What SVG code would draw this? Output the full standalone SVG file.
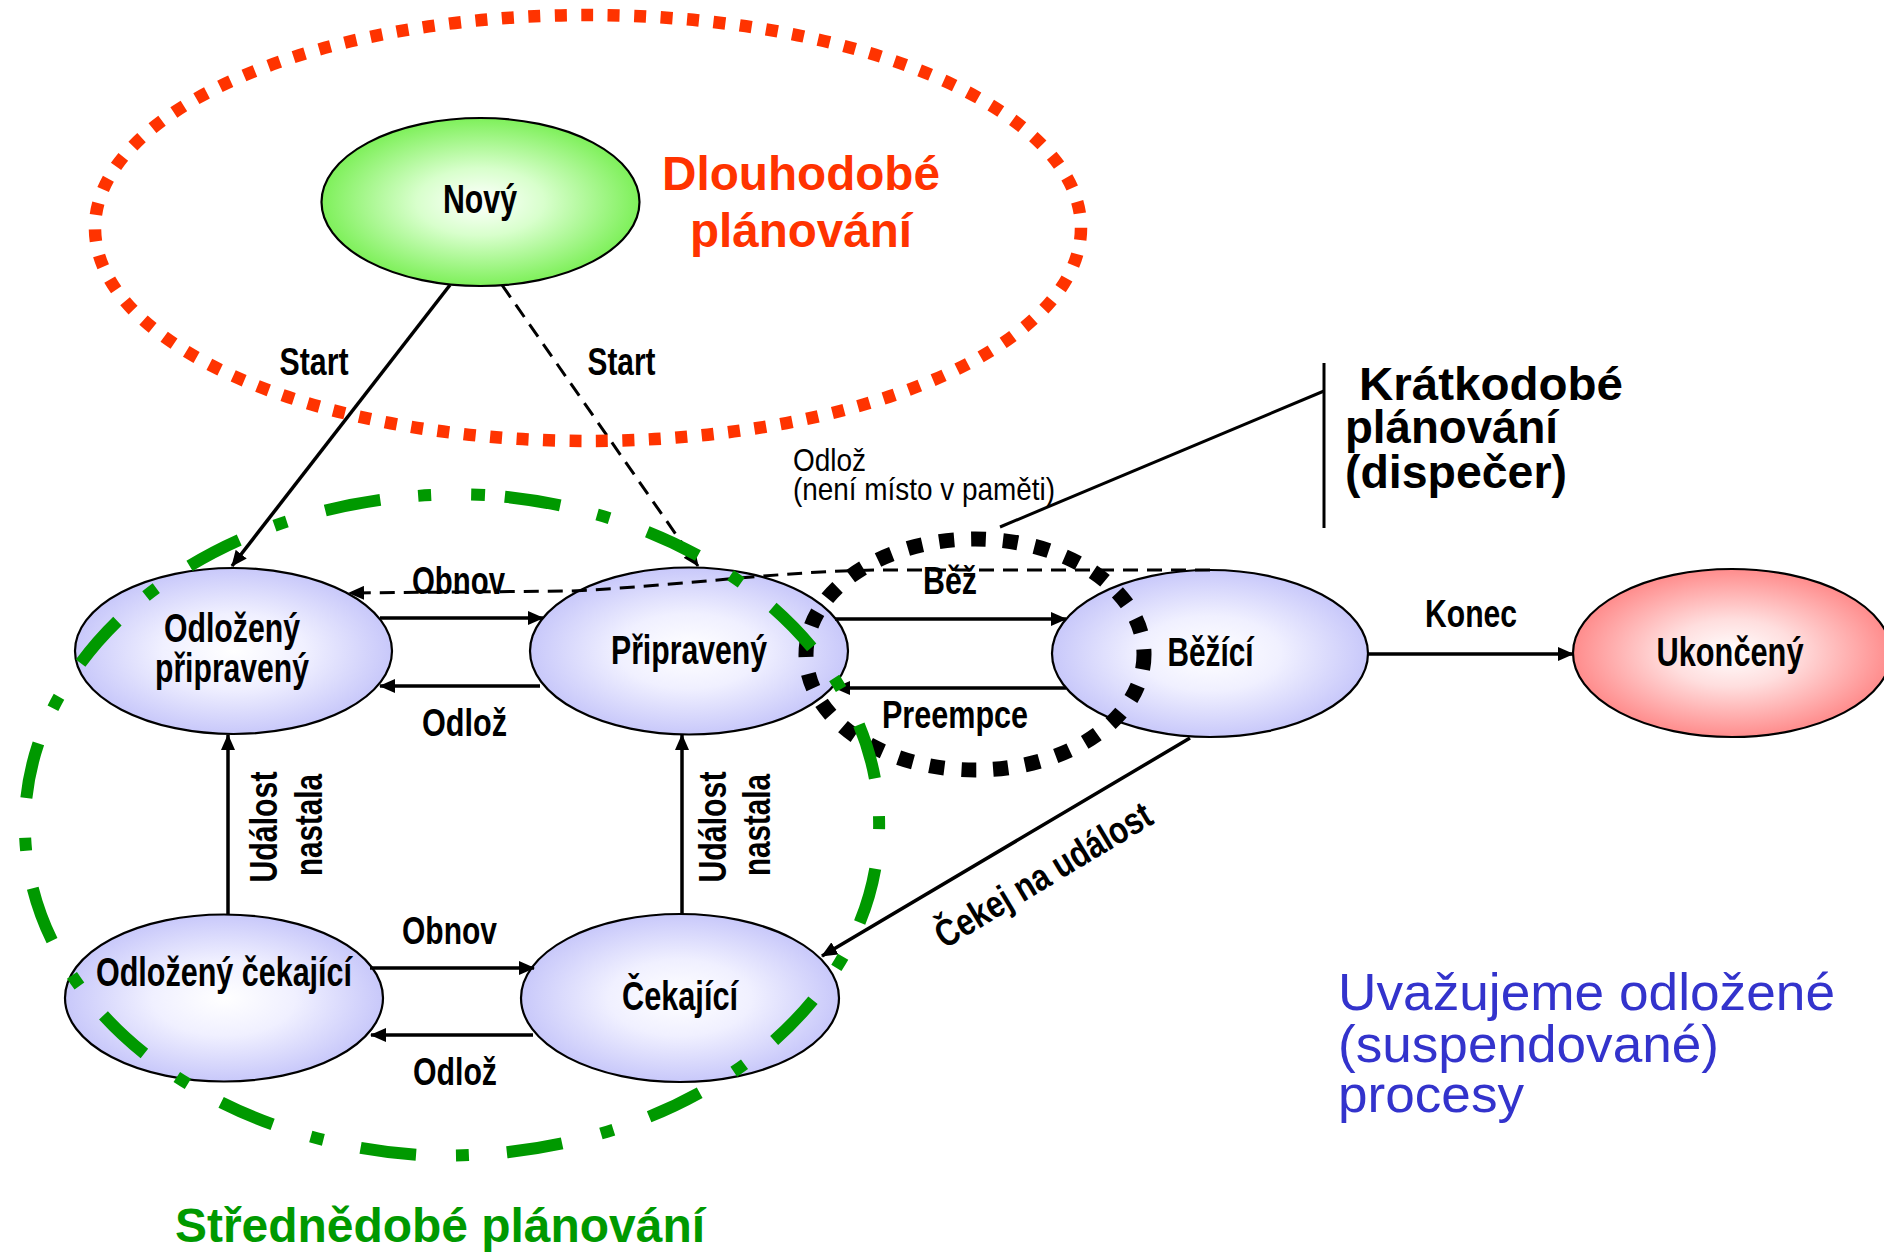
<svg xmlns="http://www.w3.org/2000/svg" width="1884" height="1252" viewBox="0 0 1884 1252">
  <defs>
    <radialGradient id="fillBlue" cx="50%" cy="50%" r="50%">
      <stop offset="0" stop-color="#ffffff"/>
      <stop offset="0.45" stop-color="#f0f0ff"/>
      <stop offset="1" stop-color="#c8c8fa"/>
    </radialGradient>
    <radialGradient id="fillGreen" cx="50%" cy="50%" r="50%">
      <stop offset="0" stop-color="#ffffff"/>
      <stop offset="0.4" stop-color="#d8ffcc"/>
      <stop offset="1" stop-color="#7ef05a"/>
    </radialGradient>
    <radialGradient id="fillRed" cx="50%" cy="50%" r="50%">
      <stop offset="0" stop-color="#ffffff"/>
      <stop offset="0.4" stop-color="#ffdede"/>
      <stop offset="1" stop-color="#ff8c8c"/>
    </radialGradient>
    <marker id="arrow" viewBox="0 0 16 14" refX="15" refY="7" markerWidth="16" markerHeight="14" markerUnits="userSpaceOnUse" orient="auto">
      <path d="M0,0 L16,7 L0,14 z" fill="#000"/>
    </marker>
  </defs>
  <style>
    .node { stroke: #000; stroke-width: 2.2; }
    .lbl { font-family: 'Liberation Sans Narrow', 'Liberation Sans', Arial, sans-serif; font-weight: bold; font-size: 40px; fill: #000; text-anchor: middle; }
    .elbl { font-family: 'Liberation Sans Narrow', 'Liberation Sans', Arial, sans-serif; font-weight: bold; font-size: 38px; fill: #000; text-anchor: middle; }
    .note { font-family: 'Liberation Sans Narrow', 'Liberation Sans', Arial, sans-serif; font-size: 32px; fill: #000; }
    .edge { fill: none; stroke: #000; stroke-width: 3.5; marker-end: url(#arrow); }
    .dash { stroke-dasharray: 15 9; stroke-width: 3; }
    .title { font-family: 'Liberation Sans', Arial, sans-serif; font-weight: bold; }
    .blue { font-family: 'Liberation Sans', Arial, sans-serif; font-size: 52px; fill: #3333cc; }
  </style>

  <rect width="1884" height="1252" fill="#fff"/>

  <!-- process states -->
  <g id="node-novy">
    <ellipse class="node" cx="480.5" cy="202" rx="159" ry="84" fill="url(#fillGreen)"/>
    <text class="lbl" x="480" y="213" textLength="74" lengthAdjust="spacingAndGlyphs">Nový</text>
  </g>
  <g id="node-odlozeny-pripraveny">
    <ellipse class="node" cx="233.5" cy="651" rx="158.5" ry="83" fill="url(#fillBlue)"/>
    <text class="lbl" x="232" y="642" textLength="136" lengthAdjust="spacingAndGlyphs">Odložený</text>
    <text class="lbl" x="232" y="682" textLength="154" lengthAdjust="spacingAndGlyphs">připravený</text>
  </g>
  <g id="node-pripraveny">
    <ellipse class="node" cx="689" cy="651" rx="159" ry="83.5" fill="url(#fillBlue)"/>
    <text class="lbl" x="689" y="664" textLength="156" lengthAdjust="spacingAndGlyphs">Připravený</text>
  </g>
  <g id="node-bezici">
    <ellipse class="node" cx="1210" cy="653.5" rx="158" ry="83.5" fill="url(#fillBlue)"/>
    <text class="lbl" x="1210.5" y="666" textLength="86" lengthAdjust="spacingAndGlyphs">Běžící</text>
  </g>
  <g id="node-ukonceny">
    <ellipse class="node" cx="1732" cy="653" rx="159" ry="84" fill="url(#fillRed)"/>
    <text class="lbl" x="1730" y="666" textLength="147" lengthAdjust="spacingAndGlyphs">Ukončený</text>
  </g>
  <g id="node-odlozeny-cekajici">
    <ellipse class="node" cx="224" cy="998" rx="159" ry="83.5" fill="url(#fillBlue)"/>
    <text class="lbl" x="224" y="986" textLength="256" lengthAdjust="spacingAndGlyphs">Odložený čekající</text>
  </g>
  <g id="node-cekajici">
    <ellipse class="node" cx="680" cy="998" rx="159" ry="84" fill="url(#fillBlue)"/>
    <text class="lbl" x="680" y="1010" textLength="116" lengthAdjust="spacingAndGlyphs">Čekající</text>
  </g>

  <!-- transitions -->
  <g id="connectors">
    <line class="edge" x1="450" y1="285" x2="232" y2="566"/>
    <line class="edge dash" x1="502" y1="285" x2="698" y2="566"/>
    <path class="edge dash" d="M1210,570 L880,570 C780,571 680,586 570,591 L349,593"/>
    <line class="edge" x1="380" y1="618" x2="543" y2="618"/>
    <line class="edge" x1="540" y1="686" x2="380" y2="686"/>
    <line class="edge" x1="835" y1="619" x2="1066" y2="619"/>
    <line class="edge" x1="1066" y1="688" x2="835" y2="688"/>
    <line class="edge" x1="1368" y1="654" x2="1573" y2="654"/>
    <line class="edge" x1="1190" y1="738" x2="822" y2="956"/>
    <line class="edge" x1="228" y1="914" x2="228" y2="735"/>
    <line class="edge" x1="682" y1="914" x2="682" y2="735"/>
    <line class="edge" x1="370" y1="968" x2="534" y2="968"/>
    <line class="edge" x1="533" y1="1035" x2="371" y2="1035"/>

    <text class="elbl" x="314" y="375" textLength="69" lengthAdjust="spacingAndGlyphs">Start</text>
    <text class="elbl" x="621.5" y="375" textLength="68" lengthAdjust="spacingAndGlyphs">Start</text>
    <text class="elbl" x="458.5" y="594" textLength="93" lengthAdjust="spacingAndGlyphs">Obnov</text>
    <text class="elbl" x="464.5" y="736" textLength="85" lengthAdjust="spacingAndGlyphs">Odlož</text>
    <text class="elbl" x="950" y="594" textLength="54" lengthAdjust="spacingAndGlyphs">Běž</text>
    <text class="elbl" x="955" y="728" textLength="146" lengthAdjust="spacingAndGlyphs">Preempce</text>
    <text class="elbl" x="1471" y="627" textLength="92" lengthAdjust="spacingAndGlyphs">Konec</text>
    <text class="elbl" x="449.5" y="944" textLength="95" lengthAdjust="spacingAndGlyphs">Obnov</text>
    <text class="elbl" x="455" y="1085" textLength="84" lengthAdjust="spacingAndGlyphs">Odlož</text>
    <text class="elbl" transform="translate(277,827) rotate(-90)" textLength="111" lengthAdjust="spacingAndGlyphs">Událost</text>
    <text class="elbl" transform="translate(322,825) rotate(-90)" textLength="102" lengthAdjust="spacingAndGlyphs">nastala</text>
    <text class="elbl" transform="translate(726,827) rotate(-90)" textLength="111" lengthAdjust="spacingAndGlyphs">Událost</text>
    <text class="elbl" transform="translate(770,825) rotate(-90)" textLength="102" lengthAdjust="spacingAndGlyphs">nastala</text>
    <text class="elbl" transform="translate(1050,886) rotate(-31)" textLength="246" lengthAdjust="spacingAndGlyphs">Čekej na událost</text>

    <text class="note" x="793" y="471" textLength="73" lengthAdjust="spacingAndGlyphs">Odlož</text>
    <text class="note" x="793" y="500" textLength="262" lengthAdjust="spacingAndGlyphs">(není místo v paměti)</text>
  </g>

  <!-- scheduling levels -->
  <g id="kratkodobe">
    <ellipse cx="975" cy="654.5" rx="169" ry="115.5" fill="none" stroke="#000" stroke-width="15" stroke-dasharray="15 17"/>
    <line x1="1324" y1="391" x2="1000" y2="527" stroke="#000" stroke-width="3"/>
    <line x1="1324" y1="363" x2="1324" y2="528" stroke="#000" stroke-width="3"/>
    <text class="title" font-size="46" x="1359" y="400" textLength="264" lengthAdjust="spacingAndGlyphs">Krátkodobé</text>
    <text class="title" font-size="46" x="1345" y="443" textLength="213" lengthAdjust="spacingAndGlyphs">plánování</text>
    <text class="title" font-size="46" x="1345" y="488" textLength="222" lengthAdjust="spacingAndGlyphs">(dispečer)</text>
  </g>
  <g id="strednedobe">
    <path d="M485,495 A434,331 0 0 1 419,1155 A434,331 0 0 1 485,495" fill="none" stroke="#009900" stroke-width="12" stroke-dasharray="56 38 13 40" stroke-dashoffset="127"/>
    <text class="title" font-size="48" fill="#009900" x="175" y="1242" textLength="530" lengthAdjust="spacingAndGlyphs">Střednědobé plánování</text>
  </g>
  <g id="dlouhodobe">
    <ellipse cx="588" cy="228" rx="493" ry="213" fill="none" stroke="#ff3300" stroke-width="12.5" stroke-dasharray="12 14.5"/>
    <text class="title" font-size="48" fill="#ff3300" text-anchor="middle" x="801" y="190" textLength="278" lengthAdjust="spacingAndGlyphs">Dlouhodobé</text>
    <text class="title" font-size="48" fill="#ff3300" text-anchor="middle" x="801" y="247" textLength="222" lengthAdjust="spacingAndGlyphs">plánování</text>
  </g>

  <g id="poznamka">
    <text class="blue" x="1338" y="1010" textLength="497" lengthAdjust="spacingAndGlyphs">Uvažujeme odložené</text>
    <text class="blue" x="1338" y="1062" textLength="381" lengthAdjust="spacingAndGlyphs">(suspendované)</text>
    <text class="blue" x="1338" y="1112" textLength="186" lengthAdjust="spacingAndGlyphs">procesy</text>
  </g>
</svg>
